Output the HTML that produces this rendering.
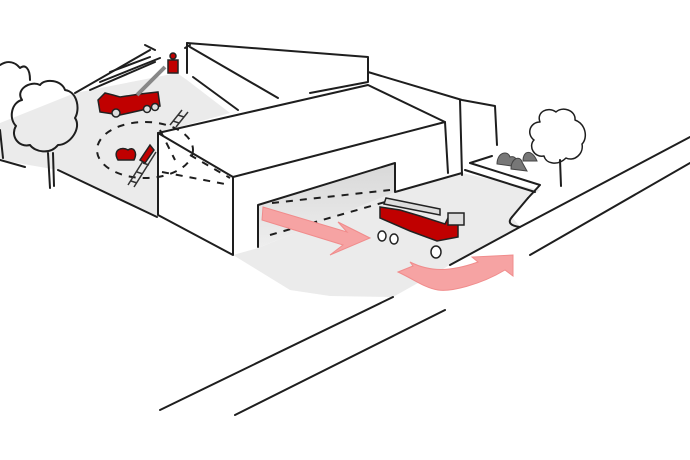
<!DOCTYPE html>
<html><head><meta charset="utf-8"><style>
html,body{margin:0;padding:0;background:#fff;width:690px;height:460px;overflow:hidden}
svg{display:block}
</style></head><body>
<svg width="690" height="460" viewBox="0 0 690 460" xmlns="http://www.w3.org/2000/svg">
<defs>
<linearGradient id="door" x1="0" y1="0" x2="0" y2="1">
<stop offset="0" stop-color="#d8d8d8"/><stop offset="1" stop-color="#eeeeee"/>
</linearGradient>
</defs>
<polygon points="0,123 75,93 177,73 187,80 230,113 158,133 158,217 58,170 0,160" fill="#ebebeb"/>
<polygon points="233,255 258,248 395,192 462,173 540,190 528,198 512,217 520,227 450,265 393,297 330,296 290,290" fill="#ebebeb"/>
<polygon points="258,205 395,163 395,192 258,248" fill="url(#door)"/>
<g fill="none" stroke="#1e1e1e" stroke-width="2" stroke-linecap="round" stroke-linejoin="round">
<path d="M187,43 L368,57 L368,82 L310,93"/>
<path d="M187,43 L187,73"/>
<path d="M190,47 L278,98"/>
<path d="M193,77 L238,110"/>
<path d="M368,72 L462,100 L495,106 L497,145"/>
<path d="M460,100 L462,175"/>
<path d="M158,133 L368,85 L445,122 L233,177 Z"/>
<path d="M158,133 L158,215 L233,255 L233,177"/>
<path d="M445,122 L448,173"/>
<path d="M258,247 L258,205 L395,163 L395,192 L462,173"/>
<path d="M160,410 L393,297"/>
<path d="M235,415 L445,310"/>
<path d="M450,265 L520,227 L690,137"/>
<path d="M512,217 Q505,225 520,227"/>
<path d="M512,217 L528,198"/>
<path d="M530,255 L690,163"/>
<path d="M470,163 L540,185 L528,198"/>
<path d="M465,170 L535,192"/>
<path d="M470,163 L492,156"/>
<path d="M58,170 L157,217"/>
<path d="M0,160 L25,167"/>
<path d="M75,93 L150,50"/>
<path d="M90,90 L155,62"/>
<path d="M100,82 L160,58"/>
<path d="M110,72 L150,57"/>
<path d="M145,45 L155,50"/>
<path d="M185,48 L190,45"/>
<path d="M22,100 C15,90 30,80 40,85 C45,78 62,80 65,90 C78,92 80,110 75,118 C82,128 70,145 58,145 C50,155 35,152 30,145 C18,148 10,135 16,126 C8,118 12,102 22,100 Z"/>
<path d="M48,153 L50,188 M53,153 L54,186"/>
<path d="M0,65 C8,60 15,62 20,68 C25,64 30,68 30,80"/>
<path d="M0,130 L3,158"/>
<path d="M540,122 C536,112 548,106 556,112 C562,106 576,110 575,120 C586,124 588,138 582,144 C584,154 574,162 566,158 C558,166 546,164 544,156 C534,158 528,146 534,140 C526,134 530,122 540,122 Z" stroke-width="1.5"/>
<path d="M560,160 L561,186"/>
</g>
<g fill="none" stroke="#1e1e1e" stroke-width="2" stroke-dasharray="7,7">
<ellipse cx="145" cy="150" rx="48" ry="28"/>
<path d="M162,172 L230,185"/>
<path d="M190,155 L230,178"/>
<path d="M272,203 L390,190"/>
<path d="M270,235 L392,200"/>
<path d="M160,130 L175,160"/>
</g>
<g stroke="#333" stroke-width="1.5" fill="none">
<path d="M128,185 L150,150 M134,187 L156,152 M131,181 L137,183 M137,172 L143,174 M143,163 L149,165"/>
<path d="M170,125 L182,110 M176,127 L188,112 M173,121 L179,123 M178,115 L184,117"/>
</g>
<g stroke="#222" stroke-width="1.5">
<path d="M98,100 L105,93 L113,95 L120,97 L140,94 L158,92 L160,106 L120,115 L100,112 Z" fill="#c00000"/>
<circle cx="116" cy="113" r="4" fill="#ddd"/><circle cx="147" cy="109" r="3.5" fill="#ddd"/><circle cx="155" cy="107" r="3.5" fill="#ddd"/>
<path d="M137,95 L165,67" stroke-width="4" fill="none" stroke="#888"/>
<rect x="168" y="60" width="10" height="13" fill="#c00000"/>
<circle cx="173" cy="56" r="3" fill="#c00000"/>
<path d="M118,160 C112,150 122,146 128,150 C133,146 138,152 134,160 Z" fill="#c00000"/>
<path d="M140,160 L150,145 L154,150 L145,163 Z" fill="#c00000"/>
</g>
<g stroke="#222" stroke-width="1.5">
<path d="M380,207 L380,218 L410,231 L437,241 L458,237 L458,222 L448,218 L445,224 L420,216 L400,210 Z" fill="#c00000"/>
<path d="M384,204 L440,215 L440,209 L386,198 Z" fill="#ddd"/>
<rect x="448" y="213" width="16" height="12" fill="#ddd"/>
<ellipse cx="382" cy="236" rx="4" ry="5" fill="#fff"/>
<ellipse cx="394" cy="239" rx="4" ry="5" fill="#fff"/>
<ellipse cx="436" cy="252" rx="5" ry="6" fill="#fff"/>
</g>
<g fill="#777" stroke="#444" stroke-width="1">
<path d="M497,164 C497,152 508,150 510,157 C515,155 519,161 519,167 Z"/>
<path d="M511,169 C511,158 520,155 522,162 L527,171 Z"/>
<path d="M523,161 C523,150 532,149 537,161 Z"/>
</g>
<g fill="#f6a3a3" stroke="#f08c8c" stroke-width="1">
<polygon points="263,207 347,232 338,222 370,238 330,255 343,245 262,220"/>
<path d="M398,272 L413,266 L410,262 C430,272 450,272 478,262 L472,257 L513,255 L513,276 L505,270 C480,285 450,292 438,290 C425,288 415,280 398,272 Z"/>
</g>
</svg>
</body></html>
